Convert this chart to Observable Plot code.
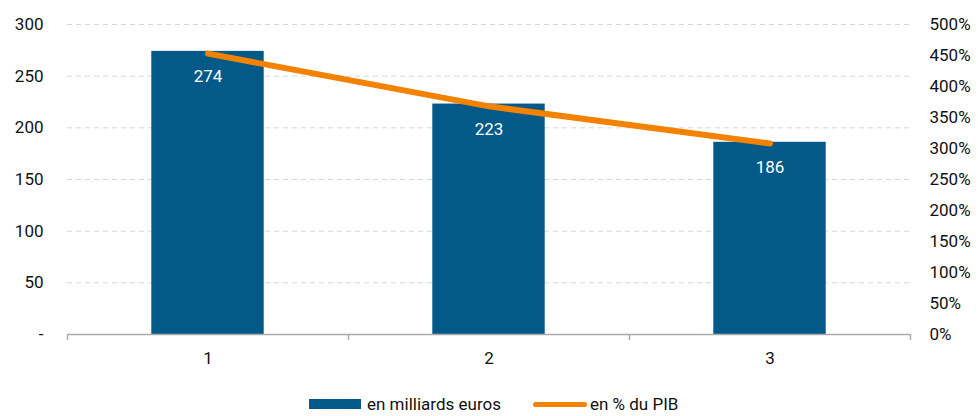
<!DOCTYPE html>
<html>
<head>
<meta charset="utf-8">
<script src="https://cdn.jsdelivr.net/npm/d3@7"></script>
<script src="https://cdn.jsdelivr.net/npm/@observablehq/plot@0.6"></script>
<style>
  html, body { margin: 0; padding: 0; background: #fff; }
  body { width: 978px; height: 416px; overflow: hidden; font-family: Roboto, "DejaVu Sans", sans-serif; }
  #legend { display: flex; align-items: center; height: 24px; margin-top: 0px; padding-left: 309px; font-size: 17px; color: #111; }
  .sw-bar { width: 52px; height: 10px; background: #035a88; margin-right: 6px; }
  .sw-line { width: 54px; height: 5px; border-radius: 3px; background: #f28200; margin-left: 32px; margin-right: 3px; }
</style>
</head>
<body>
<div id="chart"></div>
<div id="legend">
  <div class="sw-bar"></div><span>en milliards euros</span>
  <div class="sw-line"></div><span>en % du PIB</span>
</div>
<script>
const categories = [1, 2, 3];
const milliards = [274, 223, 186];
const pctPIB = [453, 368, 308];
const leftTicks = [0, 50, 100, 150, 200, 250, 300];
const rightTicks = [0, 50, 100, 150, 200, 250, 300, 350, 400, 450, 500];
const ratio = 300 / 500; // right axis % -> left axis units

const bars = categories.map((c, i) => ({c, v: milliards[i]}));
const line = categories.map((c, i) => ({c, p: pctPIB[i], y: pctPIB[i] * ratio}));
const boundaries = [0.5, 1.5, 2.5, 3.5];

const plot = Plot.plot({
  width: 978,
  height: 392,
  marginLeft: 67,
  marginRight: 68,
  marginTop: 24,
  marginBottom: 58,
  style: {fontFamily: "Roboto, 'DejaVu Sans', sans-serif", fontSize: "17px", color: "#111"},
  x: {type: "linear", domain: [0.5, 3.5], label: null},
  y: {domain: [0, 300], label: null},
  marks: [
    Plot.gridY(leftTicks.filter(d => d > 0), {stroke: "#d6d6d6", strokeOpacity: 1, strokeDasharray: "5,4", strokeWidth: 1}),
    Plot.rectY(bars, {x1: d => d.c - 0.2, x2: d => d.c + 0.2, y1: 0, y2: "v", fill: "#035a88"}),
    Plot.text(bars, {x: "c", y: "v", text: d => String(d.v), fill: "white", dy: 25, fontSize: 17}),
    Plot.line(line, {x: "c", y: "y", stroke: "#f28200", strokeWidth: 6, strokeLinecap: "round"}),
    Plot.ruleY([0], {stroke: "#aaa", strokeWidth: 1.5}),
    Plot.axisX(boundaries, {tickSize: 6, tickFormat: () => "", stroke: "#aaa", strokeWidth: 1.5, label: null}),
    Plot.axisX(categories, {tickSize: 0, tickPadding: 17, tickFormat: d => String(d), fontSize: 17, label: null}),
    Plot.axisY(leftTicks, {anchor: "left", tickSize: 0, tickPadding: 24, tickFormat: d => d === 0 ? "-" : String(d), fontSize: 17, label: null}),
    Plot.axisY(rightTicks.map(p => p * ratio), {anchor: "right", tickSize: 0, tickPadding: 19, tickFormat: d => Math.round(d / ratio) + "%", fontSize: 17, label: null})
  ]
});
document.getElementById("chart").appendChild(plot);
</script>
</body>
</html>
